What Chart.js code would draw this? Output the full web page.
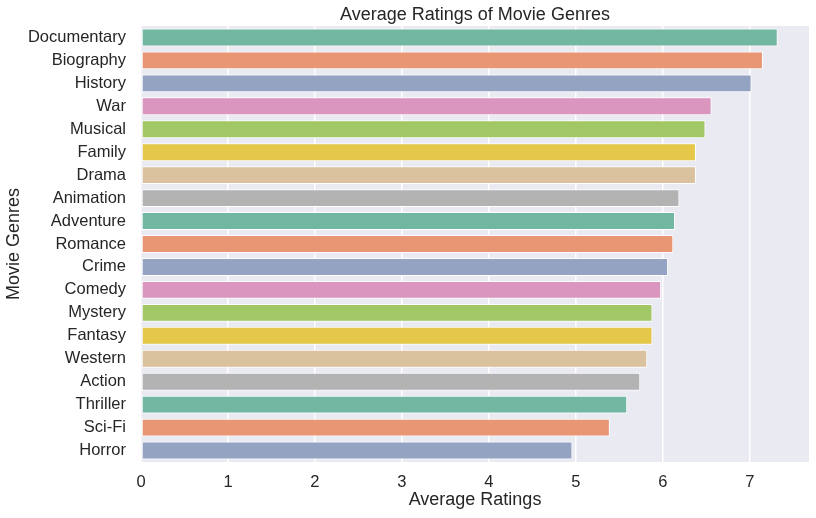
<!DOCTYPE html>
<html>
<head>
<meta charset="utf-8">
<script src="https://cdn.jsdelivr.net/npm/chart.js@4"></script>
<style>
  html, body { margin: 0; padding: 0; background: #fff; }
  #wrap { width: 816px; height: 518px; }
</style>
</head>
<body>
<div id="wrap"><canvas id="genre_ratings" width="816" height="518"></canvas></div>
<script>
// genres and their average ratings
const genres = ["Documentary", "Biography", "History", "War", "Musical", "Family", "Drama",
    "Animation", "Adventure", "Romance", "Crime", "Comedy", "Mystery", "Fantasy",
    "Western", "Action", "Thriller", "Sci-Fi", "Horror"];
const ratings = [7.32, 7.15, 7.02, 6.56, 6.49, 6.38, 6.38, 6.19, 6.14, 6.12,
    6.06, 5.98, 5.88, 5.88, 5.82, 5.74, 5.59, 5.39, 4.96];
const xTicks = [0, 1, 2, 3, 4, 5, 6, 7];

// seaborn Set2, desaturated
const palette = ["#72b7a1", "#e99675", "#95a3c3", "#db96c0", "#a2c865", "#e5c849", "#dbc29e", "#b3b3b3"];

const textColor = "#262626";
const fontFamily = "'Liberation Sans', Arial, sans-serif";

const plotBackground = {
    id: "plotBackground",
    beforeDraw(chart) {
        const { ctx, chartArea } = chart;
        ctx.save();
        ctx.fillStyle = "#eaeaf2";
        ctx.fillRect(chartArea.left, chartArea.top, chartArea.right - chartArea.left, chartArea.bottom - chartArea.top);
        ctx.restore();
    },
    afterDraw(chart) {
        // title centred over the plot area, like matplotlib
        const { ctx, chartArea } = chart;
        ctx.save();
        ctx.fillStyle = textColor;
        ctx.font = "18px " + fontFamily;
        ctx.textAlign = "center";
        ctx.textBaseline = "middle";
        ctx.fillText("Average Ratings of Movie Genres", (chartArea.left + chartArea.right) / 2, 15);
        ctx.restore();
    },
};

new Chart(document.getElementById("genre_ratings"), {
    type: "bar",
    data: {
        labels: genres,
        datasets: [
            {
                label: "Average Ratings",
                data: ratings,
                backgroundColor: genres.map((g, i) => palette[i % palette.length]),
                borderColor: "#ffffff",
                borderWidth: 1,
                borderSkipped: false,
                categoryPercentage: 1,
                barPercentage: 0.78,
            },
        ],
    },
    options: {
        indexAxis: "y",
        responsive: false,
        animation: false,
        devicePixelRatio: 1,
        layout: { padding: { top: 26, right: 7, left: 0, bottom: 0 } },
        plugins: {
            legend: { display: false },
            tooltip: { enabled: false },
            title: { display: false },
        },
        scales: {
            x: {
                type: "linear",
                min: 0,
                max: 7.68,
                border: { display: false },
                grid: { color: "#ffffff", lineWidth: 1.5, drawTicks: false },
                ticks: {
                    stepSize: 1,
                    padding: 11,
                    color: textColor,
                    font: { family: fontFamily, size: 16.5 },
                },
                afterBuildTicks: (axis) => {
                    axis.ticks = xTicks.map((v) => ({ value: v }));
                },
                afterFit: (axis) => {
                    axis.height = 56;
                },
                title: {
                    display: true,
                    text: "Average Ratings",
                    color: textColor,
                    font: { family: fontFamily, size: 18 },
                    padding: { top: 0, bottom: 7 },
                },
            },
            y: {
                border: { display: false },
                grid: { display: false, drawTicks: false },
                ticks: {
                    autoSkip: false,
                    padding: 15,
                    color: textColor,
                    font: { family: fontFamily, size: 16.5 },
                },
                afterFit: (axis) => {
                    axis.width = 141;
                },
                title: {
                    display: true,
                    text: "Movie Genres",
                    color: textColor,
                    font: { family: fontFamily, size: 18 },
                    padding: { top: 3, bottom: 0 },
                },
            },
        },
    },
    plugins: [plotBackground],
});
</script>
</body>
</html>
